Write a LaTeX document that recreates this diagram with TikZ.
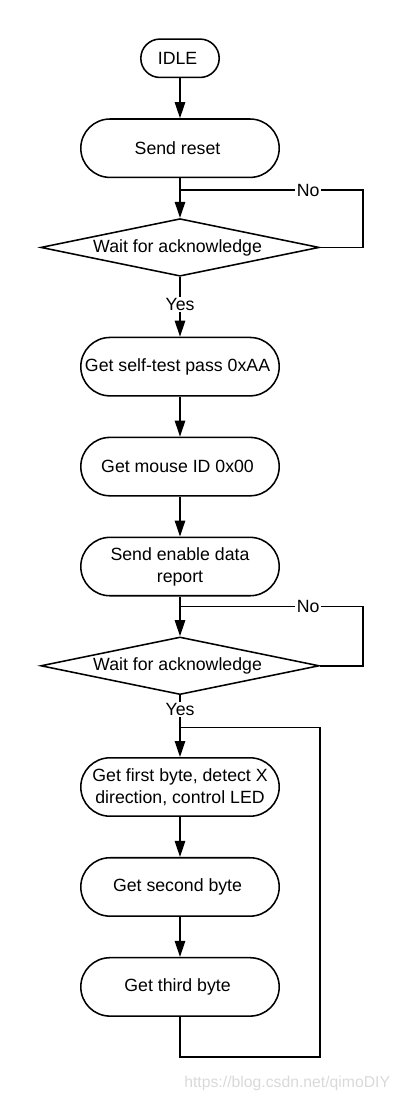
\documentclass[tikz,border=0pt]{standalone}
\usepackage{fontspec}
\setmainfont{Liberation Sans}
\usetikzlibrary{arrows.meta,shapes.geometric,matrix}
\tikzset{
  chart/.style   ={draw, line width=1.1pt, align=center, font=\fontsize{12.6}{15.5}\selectfont},
  terminal/.style={chart, rectangle, rounded corners=7.3mm, minimum width=4.96cm,
    minimum height=1.46cm, inner sep=2pt},
  twoline/.style ={text width=4.5cm, align=flush center},
  idle/.style    ={minimum width=1.96cm, minimum height=0.96cm, rounded corners=4.8mm},
  decision/.style={sharp corners, diamond, aspect=4.75, inner sep=0pt,
    minimum width=6.96cm, minimum height=1.44cm},
  yesno/.style   ={fill=white, inner sep=1pt, font=\fontsize{12.6}{15.5}\selectfont}}

\begin{document}
\begin{tikzpicture}
\useasboundingbox (0,0) rectangle (10.125,-27.55);
\matrix[
  matrix of nodes,
  row sep=1cm,
  inner sep=0pt,
  anchor=north,
  nodes={terminal,anchor=center}
] (m) at (4.5,-0.95) {
|[idle]| IDLE \\
Send reset \\
|[decision]| Wait for acknowledge \\[0.5cm]
Get self-test pass 0xAA \\
Get mouse ID 0x00 \\
|[twoline]| \mbox{Send enable data} \mbox{report} \\
|[decision]| Wait for acknowledge \\[0.55cm]
|[twoline]| \mbox{Get first byte, detect X} \mbox{direction, control LED} \\
Get second byte \\
Get third byte \\
};
\path[line width=1.1pt, -{Triangle[length=4mm,width=2.6mm]}]
  (m-1-1) edge (m-2-1)
  (m-2-1) edge coordinate[pos=.3] (no-1) (m-3-1)
  (m-3-1) edge node[yesno,pos=.46] {Yes} (m-4-1)
  (m-4-1) edge (m-5-1)
  (m-5-1) edge (m-6-1)
  (m-6-1) edge coordinate[pos=.25] (no-2) (m-7-1)
  (m-7-1) edge node[yesno,pos=.23] {Yes} coordinate[pos=.52] (back) (m-8-1)
  (m-8-1) edge (m-9-1)
  (m-9-1) edge (m-10-1);
\draw[line width=1.1pt]
  (m-3-1.east) -- ++(1.075,0) |- node[yesno,pos=.65] {No} (no-1)
  (m-7-1.east) -- ++(1.075,0) |- node[yesno,pos=.65] {No} (no-2)
  (m-10-1.south) -- ++(0,-1) -- ++(3.5,0) |- (back);
\node[text=gray!30, font=\fontsize{11.2}{13}\selectfont, anchor=east] (mark)
  at (9.875,-27.075) {https://blog.csdn.net/qimoDIY};
\end{tikzpicture}
\end{document}
